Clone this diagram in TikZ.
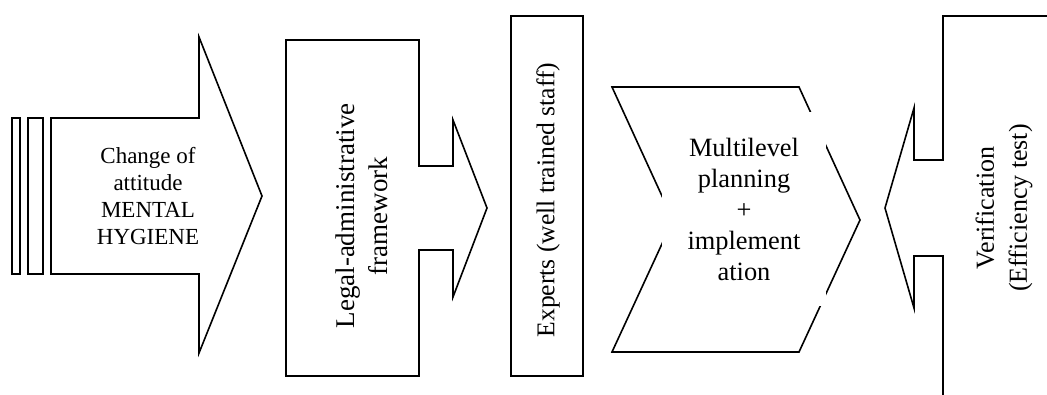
\documentclass[tikz,border=0pt]{standalone}
\usepackage{fontspec}
\setmainfont{Liberation Serif}
\begin{document}
\begin{tikzpicture}[x=1pt, y=-1pt,
  outline/.style={draw=black, line width=1.6pt, line join=miter},
  txt/.style={align=center, inner sep=0pt, text=black}]
\useasboundingbox (0,0) rectangle (1047,394);
% attitude arrow with the two bars behind it
\draw[outline] (12,118) rectangle (20,274) (28,118) rectangle (43,274);
\draw[outline] (51,118) -- (199,118) -- (199,37) -- (262,196) -- (199,353) -- (199,274) -- (51,274) -- cycle;
\node[txt, font=\fontsize{23}{27}\selectfont] (attitude) at (148,196) {Change of\\attitude\\MENTAL\\HYGIENE};
% legal box
\draw[outline] (286,40) -- (419,40) -- (419,166) -- (453,166) -- (453,120) -- (487,208) -- (453,297) -- (453,250) -- (419,250) -- (419,376) -- (286,376) -- cycle;
\node[txt, rotate=90, font=\fontsize{27}{33}\selectfont] (legal) at (362,216) {Legal-administrative\\framework};
% experts
\draw[outline] (511,16) rectangle (583,376);
\node[txt, rotate=90, font=\fontsize{25.6}{31}\selectfont] (experts) at (548,200) {Experts (well trained staff)};
% planning chevron
\draw[outline] (612,87) -- (799,87) -- (860,220) -- (799,352) -- (612,352) -- (673,220) -- cycle;
\node[txt, fill=white, minimum width=164pt, minimum height=194pt, font=\fontsize{26.4}{31}\selectfont] (planning) at (744,209) {Multilevel\\planning\\+\\implement\\ation};
% verification
\draw[outline] (1060,16) -- (943,16) -- (943,160) -- (914,160) -- (914,108) -- (885,208) -- (914,308) -- (914,256) -- (943,256) -- (943,400);
\node[txt, rotate=90, font=\fontsize{26}{33}\selectfont] (verif) at (1004,208) {Verification\\(Efficiency test)};
\end{tikzpicture}
\end{document}
